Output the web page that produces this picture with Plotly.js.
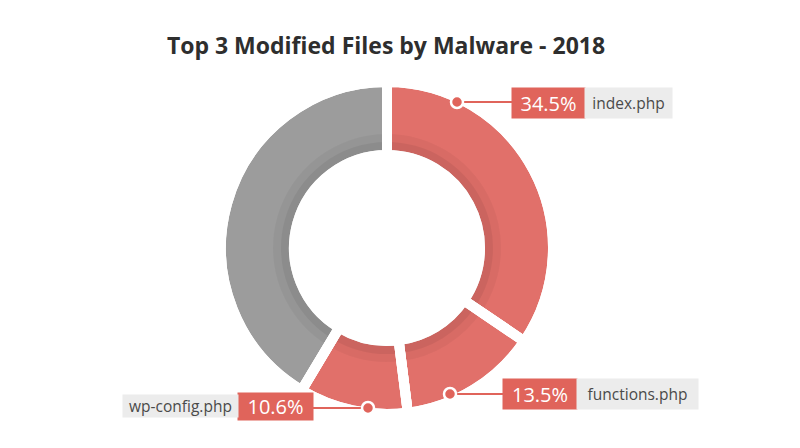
<!DOCTYPE html>
<html>
<head>
<meta charset="utf-8">
<script src="https://cdn.plot.ly/plotly-3.0.1.min.js"></script>
<style>html,body{margin:0;padding:0;background:#fff;}#chart{width:800px;height:448px;}</style>
</head>
<body>
<div id="chart"></div>
<script>
// ---- data ----
var fileLabels = ['index.php', 'functions.php', 'wp-config.php', 'Other'];
var fileShares = [34.5, 13.5, 10.6, 41.4];
var sliceColors = ['#e1706a', '#e1706a', '#e1706a', '#9c9c9c'];
var calloutFiles = ['index.php', 'functions.php', 'wp-config.php'];

// ---- layout helpers ----
var W = 800, H = 448;
var cx = 387, cy = 248, R = 166, rIn = 93;
function dom(r) {
  return { x: [(cx - r) / W, (cx + r) / W], y: [(H - cy - r) / H, (H - cy + r) / H] };
}
function px(x) { return x / W; }
function py(y) { return 1 - y / H; }

var base = {
  type: 'pie', sort: false, direction: 'clockwise', rotation: 0,
  textinfo: 'none', hoverinfo: 'label+percent', showlegend: false
};

var main = Object.assign({}, base, {
  labels: fileLabels, values: fileShares, hole: rIn / R, domain: dom(R),
  marker: { colors: sliceColors, line: { color: '#ffffff', width: 10 } }
});
var shade1R = 114;
var shade1 = Object.assign({}, base, {
  labels: fileLabels, values: fileShares, hole: rIn / shade1R, domain: dom(shade1R),
  marker: { colors: fileLabels.map(function(){return 'rgba(0,0,0,0.04)';}), line: { width: 0 } }
});
var shade2R = 106;
var shade2 = Object.assign({}, base, {
  labels: fileLabels, values: fileShares, hole: rIn / shade2R, domain: dom(shade2R),
  marker: { colors: fileLabels.map(function(){return 'rgba(0,0,0,0.06)';}), line: { width: 0 } }
});
var gaps = Object.assign({}, base, {
  labels: fileLabels, values: fileShares, hole: rIn / R, domain: dom(R), hoverinfo: 'skip',
  marker: { colors: fileLabels.map(function(){return 'rgba(0,0,0,0)';}), line: { color: '#ffffff', width: 10 } }
});

// callout placement (pixel layout)
var callouts = [
  { dot: [457, 102], side: 'right', pctBox: [512, 88, 73, 30], nameBox: [585, 88, 87, 30] },
  { dot: [450, 394], side: 'right', pctBox: [503, 379, 74, 30], nameBox: [577, 379, 121, 30] },
  { dot: [368, 408], side: 'left',  pctBox: [238, 393, 75, 27], nameBox: [123, 395, 115, 22] }
];
var boxRed = '#e0645b', boxGray = '#ececec';
var annotations = [], shapes = [];
callouts.forEach(function(c, i) {
  var idx = fileLabels.indexOf(calloutFiles[i]);
  var pb = c.pctBox, nb = c.nameBox;
  var lineEndX = c.side === 'right' ? pb[0] : pb[0] + pb[2];
  shapes.push({ type: 'line', xref: 'paper', yref: 'paper',
    x0: px(c.dot[0]), y0: py(c.dot[1]), x1: px(lineEndX), y1: py(c.dot[1]),
    line: { color: boxRed, width: 2 } });
  shapes.push({ type: 'circle', xref: 'paper', yref: 'paper',
    x0: px(c.dot[0] - 6), x1: px(c.dot[0] + 6), y0: py(c.dot[1] + 6), y1: py(c.dot[1] - 6),
    fillcolor: boxRed, line: { color: '#ffffff', width: 2.5 } });
  annotations.push({ xref: 'paper', yref: 'paper', x: px(pb[0] + pb[2] / 2), y: py(pb[1] + pb[3] / 2),
    xanchor: 'center', yanchor: 'middle', showarrow: false,
    text: fileShares[idx].toFixed(1) + '%', width: pb[2], height: pb[3], borderpad: 0,
    bgcolor: boxRed, font: { family: 'Open Sans, sans-serif', size: 20, color: '#ffffff' } });
  annotations.push({ xref: 'paper', yref: 'paper', x: px(nb[0] + nb[2] / 2), y: py(nb[1] + nb[3] / 2),
    xanchor: 'center', yanchor: 'middle', showarrow: false,
    text: fileLabels[idx], width: nb[2], height: nb[3], borderpad: 0,
    bgcolor: boxGray, font: { family: 'Open Sans, sans-serif', size: 15.5, color: '#4a4a4a' } });
});

var layout = {
  width: W, height: H,
  margin: { l: 0, r: 0, t: 0, b: 0 },
  paper_bgcolor: '#ffffff',
  title: { text: 'Top 3 Modified Files by Malware - 2018', x: 386 / W, xanchor: 'center',
    y: 1 - 46 / H, yanchor: 'middle', yref: 'container',
    font: { family: 'Open Sans, sans-serif', size: 23, weight: 700, color: '#2e2e2e' } },
  annotations: annotations,
  shapes: shapes,
  showlegend: false
};

Plotly.newPlot('chart', [main, shade1, shade2, gaps], layout, { displayModeBar: false, staticPlot: true });
</script>
</body>
</html>
